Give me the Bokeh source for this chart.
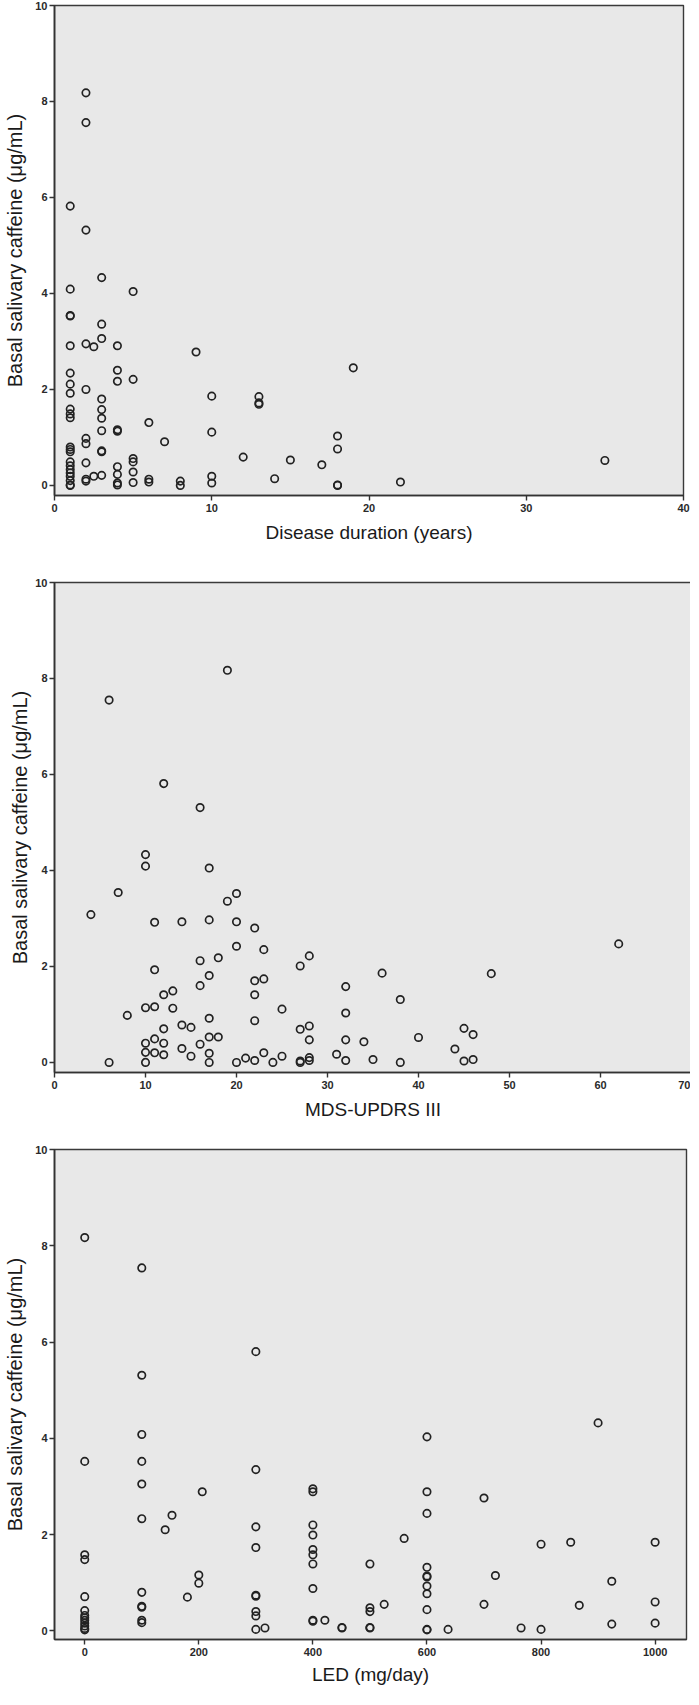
from bokeh.plotting import figure
from bokeh.layouts import column
from bokeh.models import FixedTicker, Range1d
from bokeh.embed import file_html
from bokeh.resources import INLINE

# ---------------- data ----------------
y_label = "Basal salivary caffeine (\u03bcg/mL)"
y_ticks = [0, 2, 4, 6, 8, 10]

# Panel 1: disease duration (years) vs caffeine
duration_years = [1, 1, 1, 1, 1, 1, 1, 1, 1, 1, 1, 1, 1, 1, 1, 1, 1, 1, 1, 1, 1, 1,
                  2, 2, 2, 2, 2, 2, 2, 2, 2, 2,
                  2.5, 2.5,
                  3, 3, 3, 3, 3, 3, 3, 3, 3, 3,
                  4, 4, 4, 4, 4, 4, 4, 4, 4,
                  5, 5, 5, 5, 5, 5,
                  6, 6, 6,
                  7,
                  8, 8,
                  9,
                  10, 10, 10, 10,
                  12,
                  13, 13, 13,
                  14, 15, 17,
                  18, 18, 18, 18,
                  19, 22, 35]
caffeine_duration = [5.82, 4.09, 3.53, 3.54, 2.91, 2.34, 2.11, 1.92, 1.59, 1.49, 1.41, 0.80, 0.75, 0.70, 0.49, 0.41, 0.33, 0.26, 0.19, 0.10, 0.01, 0.00,
                     8.18, 7.56, 5.32, 2.95, 2.00, 0.98, 0.87, 0.47, 0.13, 0.09,
                     2.89, 0.19,
                     4.33, 3.36, 3.06, 1.80, 1.58, 1.40, 1.14, 0.72, 0.70, 0.21,
                     2.91, 2.40, 2.17, 1.16, 1.13, 0.39, 0.23, 0.05, 0.01,
                     4.04, 2.21, 0.56, 0.49, 0.28, 0.06,
                     1.31, 0.13, 0.07,
                     0.91,
                     0.09, 0.00,
                     2.78,
                     1.86, 1.11, 0.19, 0.05,
                     0.59,
                     1.85, 1.72, 1.69,
                     0.14, 0.53, 0.43,
                     1.03, 0.76, 0.01, 0.00,
                     2.45, 0.07, 0.52]
duration_ticks = [0, 10, 20, 30, 40]

# Panel 2: MDS-UPDRS III vs caffeine
updrs = [19, 6, 12, 16, 10, 10, 17, 7, 20, 19,
         4, 11, 14, 17, 20, 22, 20, 23, 28, 18,
         16, 27, 11, 17, 22, 23, 32, 16, 13, 12,
         22, 10, 11, 13, 25, 32, 8, 17, 22, 14,
         15, 12, 27, 28, 17, 18, 11, 28, 32, 34,
         10, 12, 16, 14, 10, 11, 12, 15, 17, 23,
         31, 21, 22, 25, 28, 28, 27, 27, 24, 20,
         17, 10, 6, 32, 35,
         62, 36, 48, 38, 45, 46, 40, 44, 45, 46, 38]
caffeine_updrs = [8.17, 7.55, 5.81, 5.31, 4.33, 4.09, 4.05, 3.54, 3.52, 3.36,
                  3.08, 2.92, 2.93, 2.97, 2.93, 2.80, 2.42, 2.35, 2.22, 2.18,
                  2.12, 2.01, 1.93, 1.81, 1.70, 1.74, 1.58, 1.60, 1.49, 1.41,
                  1.41, 1.14, 1.16, 1.13, 1.11, 1.03, 0.98, 0.92, 0.87, 0.78,
                  0.73, 0.70, 0.69, 0.76, 0.53, 0.53, 0.49, 0.47, 0.47, 0.43,
                  0.40, 0.40, 0.38, 0.29, 0.21, 0.20, 0.16, 0.13, 0.19, 0.20,
                  0.17, 0.09, 0.04, 0.13, 0.10, 0.04, 0.03, 0.00, 0.00, 0.00,
                  0.00, 0.00, 0.00, 0.04, 0.06,
                  2.47, 1.86, 1.85, 1.31, 0.71, 0.58, 0.52, 0.28, 0.03, 0.06, 0.00]
updrs_ticks = [0, 10, 20, 30, 40, 50, 60, 70]

# Panel 3: LED (mg/day) vs caffeine
led = [0, 0, 0, 0, 0, 0, 0, 0, 0, 0, 0, 0, 0,
       100, 100, 100, 100, 100, 100, 100, 100, 100, 100, 100,
       141, 153, 180, 200, 200, 206,
       300, 300, 300, 300, 300, 300, 300, 300, 300,
       316,
       400, 400, 400, 400, 400, 400, 400, 400, 400, 400,
       421, 451, 451,
       500, 500, 500, 500, 500,
       525, 560,
       600, 600, 600, 600, 600, 600, 600, 600, 600, 600, 600,
       637,
       700, 700, 720, 765, 800, 800, 852, 867, 900, 924, 924, 1000, 1000, 1000]
caffeine_led = [8.17, 3.52, 1.58, 1.48, 0.71, 0.42, 0.32, 0.27, 0.22, 0.16, 0.10, 0.05, 0.02,
                7.54, 5.31, 4.08, 3.52, 3.05, 2.33, 0.80, 0.51, 0.49, 0.22, 0.17,
                2.10, 2.40, 0.70, 1.16, 0.99, 2.89,
                5.80, 3.35, 2.16, 1.73, 0.74, 0.72, 0.40, 0.31, 0.03,
                0.06,
                2.95, 2.89, 2.20, 1.99, 1.69, 1.58, 1.39, 0.88, 0.22, 0.20,
                0.22, 0.07, 0.06,
                1.39, 0.48, 0.40, 0.07, 0.06,
                0.55, 1.92,
                4.03, 2.89, 2.44, 1.32, 1.14, 1.12, 0.93, 0.77, 0.44, 0.03, 0.02,
                0.03,
                2.76, 0.55, 1.15, 0.06, 1.80, 0.03, 1.84, 0.53, 4.32, 1.03, 0.14, 1.84, 0.60, 0.16]
led_ticks = [0, 200, 400, 600, 800, 1000]

INK = "#222222"


def make_panel(xs, ys, xr, yr, xticks, xlabel, fw, fh, bl, br, bt, bb, ystand, xstand):
    p = figure(frame_width=fw, frame_height=fh,
               x_range=Range1d(*xr), y_range=Range1d(*yr),
               min_border_left=bl, min_border_right=br,
               min_border_top=bt, min_border_bottom=bb,
               output_backend="svg", toolbar_location=None)
    p.background_fill_color = "#e8e8e8"
    p.border_fill_color = "white"
    p.outline_line_color = "#3a3a3a"
    p.outline_line_width = 1.4
    p.xgrid.visible = False
    p.ygrid.visible = False
    p.scatter(xs, ys, marker="circle", size=7.4, fill_color=None,
              line_color=INK, line_width=1.7)
    p.xaxis.ticker = FixedTicker(ticks=xticks)
    p.yaxis.ticker = FixedTicker(ticks=y_ticks)
    p.xaxis.axis_label = xlabel
    p.yaxis.axis_label = y_label
    for ax in (p.xaxis[0], p.yaxis[0]):
        ax.axis_line_color = "#333333"
        ax.axis_line_width = 1.7
        ax.major_tick_line_color = "#333333"
        ax.major_tick_line_width = 1.4
        ax.major_tick_out = 5
        ax.major_tick_in = 0
        ax.minor_tick_line_color = None
        ax.major_label_text_font = "Liberation Sans"
        ax.major_label_text_font_style = "bold"
        ax.major_label_text_font_size = "11px"
        ax.major_label_text_color = "#2a2a2a"
        ax.axis_label_text_font = "Liberation Sans"
        ax.axis_label_text_font_style = "normal"
        ax.axis_label_text_color = "#1a1a1a"
    p.xaxis.axis_label_text_font_size = "19px"
    p.yaxis.axis_label_text_font_size = "20px"
    p.xaxis.major_label_standoff = 3
    p.yaxis.major_label_standoff = 2
    p.yaxis.axis_label_standoff = ystand
    p.xaxis.axis_label_standoff = xstand
    return p


p1 = make_panel(duration_years, caffeine_duration, (0, 40), (-0.21, 10), duration_ticks,
                "Disease duration (years)", 629, 490, 54, 7, 5, 82, 6, 7)
p2 = make_panel(updrs, caffeine_updrs, (0, 70), (-0.21, 10), updrs_ticks,
                "MDS-UPDRS III", 637, 490, 49, 4, 5, 72, 1, 7)
p3 = make_panel(led, caffeine_led, (-53, 1055), (-0.18, 10), led_ticks,
                "LED (mg/day)", 632, 490, 54, 4, 5, 50, 6, 5)

layout = column(p1, p2, p3, spacing=0)
open("out.html", "w").write(file_html(layout, INLINE))
